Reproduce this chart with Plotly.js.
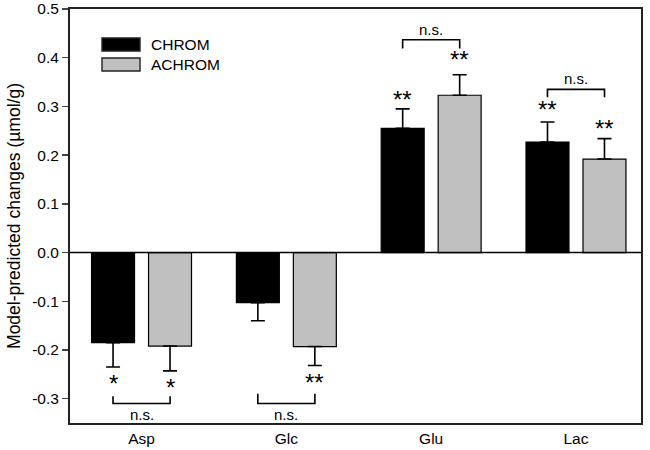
<!DOCTYPE html>
<html><head><meta charset="utf-8">
<script src="https://cdn.plot.ly/plotly-3.0.1.min.js"></script>
<style>body{margin:0;padding:0;background:#fff}#chart{width:650px;height:450px}</style>
</head><body><div id="chart"></div>
<script>
const categories = ["Asp", "Glc", "Glu", "Lac"];
const seriesNames = ["CHROM", "ACHROM"];
const chromValues = [-0.185, -0.103, 0.255, 0.227];
const chromErrPlus = [0, 0, 0.040, 0.041];
const chromErrMinus = [0.050, 0.037, 0, 0];
const achromValues = [-0.192, -0.193, 0.323, 0.192];
const achromErrPlus = [0, 0, 0.042, 0.042];
const achromErrMinus = [0.051, 0.039, 0, 0];
const chromStars = ["*", "", "**", "**"];
const achromStars = ["*", "**", "**", "**"];
const starY_chrom = [-0.268, null, 0.315, 0.293];
const starY_achrom = [-0.277, -0.266, 0.396, 0.254];
const nsCats = ["Asp", "Glc", "Glu", "Lac"];
const nsBracketY = [-0.31, -0.31, 0.437, 0.335];
const nsLegY = [-0.295, -0.29, 0.419, 0.319];
const yTickVals = [-0.3, -0.2, -0.1, 0.0, 0.1, 0.2, 0.3, 0.4, 0.5];
const yTickText = ["-0.3", "-0.2", "-0.1", "0.0", "0.1", "0.2", "0.3", "0.4", "0.5"];

const off = 0.197;
const seriesColors = ["#000000", "#c0c0c0"];
const traces = [
  {type:"bar", name:seriesNames[0], x:categories, y:chromValues, showlegend:false,
   marker:{color:seriesColors[0], line:{color:"#000", width:1.2}},
   error_y:{type:"data", symmetric:false, array:chromErrPlus, arrayminus:chromErrMinus, color:"#000", thickness:1.6, width:7}},
  {type:"bar", name:seriesNames[1], x:categories, y:achromValues, showlegend:false,
   marker:{color:seriesColors[1], line:{color:"#000", width:1.2}},
   error_y:{type:"data", symmetric:false, array:achromErrPlus, arrayminus:achromErrMinus, color:"#000", thickness:1.6, width:7}}
];

const annotations = [];
const shapes = [];
const starFont = {size:24, color:"#000", family:"Liberation Sans, Arial, sans-serif"};
categories.forEach((c,i)=>{
  if (chromStars[i]) annotations.push({x:i-off, y:starY_chrom[i], xref:"x", yref:"y", text:chromStars[i], showarrow:false, font:starFont});
  if (achromStars[i]) annotations.push({x:i+off, y:starY_achrom[i], xref:"x", yref:"y", text:achromStars[i], showarrow:false, font:starFont});
});
nsCats.forEach((c,k)=>{
  const i = categories.indexOf(c);
  const yb = nsBracketY[k], yl = nsLegY[k];
  shapes.push({type:"path", xref:"x", yref:"y",
    path:`M ${i-off} ${yl} L ${i-off} ${yb} L ${i+off} ${yb} L ${i+off} ${yl}`,
    line:{color:"#000", width:1.6}});
  const below = yb < 0;
  annotations.push({x:i, y:yb, xref:"x", yref:"y", text:"n.s.", showarrow:false,
    yanchor: below ? "top" : "bottom", font:{size:15, color:"#000"}});
});
shapes.push({type:"line", xref:"paper", yref:"y", x0:0, x1:1, y0:0, y1:0, line:{color:"#000", width:1.4}});

// manual legend (wide swatches like the original)
const plotTop = 9, plotBottom = 423, plotH = plotBottom - plotTop;
const legX0 = (102-70)/571, legX1 = (140-70)/571;
const legRows = [[(plotBottom-38)/plotH, (plotBottom-51)/plotH], [(plotBottom-58)/plotH, (plotBottom-71)/plotH]];
seriesNames.forEach((n,k)=>{
  shapes.push({type:"rect", xref:"paper", yref:"paper", x0:legX0, x1:legX1, y0:legRows[k][1], y1:legRows[k][0],
    fillcolor:seriesColors[k], line:{color:"#222", width:1.4}});
  annotations.push({xref:"paper", yref:"paper", x:(149-70)/571, y:(legRows[k][0]+legRows[k][1])/2,
    xanchor:"left", yanchor:"middle", text:n, showarrow:false, font:{size:15.5, color:"#000"}});
});

const layout = {
  width:650, height:450,
  margin:{l:70, r:9, t:plotTop, b:450-plotBottom},
  paper_bgcolor:"#fff", plot_bgcolor:"#fff",
  font:{family:"Liberation Sans, Arial, sans-serif", color:"#000"},
  barmode:"group", bargap:0.213, bargroupgap:0.246,
  showlegend:false,
  xaxis:{range:[-0.494, 3.449], showgrid:false, zeroline:false, showline:true, linecolor:"#222", linewidth:2, mirror:true,
    ticks:"", tickfont:{size:15.5}},
  yaxis:{range:[-0.35,0.5001], tickvals:yTickVals, ticktext:yTickText, ticklabeloverflow:"allow", showgrid:false, zeroline:false,
    showline:true, linecolor:"#222", linewidth:2, mirror:true, ticks:"outside", ticklen:6, tickwidth:1.4,
    tickfont:{size:15.5}, title:{text:"Model-predicted changes (µmol/g)", font:{size:17.5}, standoff:7}},
  annotations:annotations, shapes:shapes
};
Plotly.newPlot("chart", traces, layout, {displayModeBar:false, staticPlot:true});
</script></body></html>
